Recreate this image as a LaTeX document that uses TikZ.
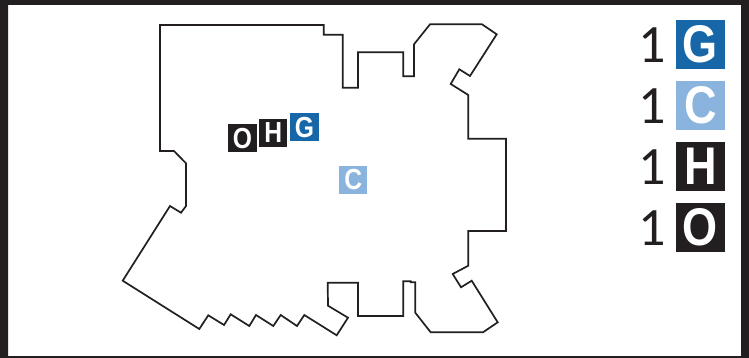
\documentclass[tikz,border=0pt]{standalone}
\usepackage{fontspec}
\setmainfont{Liberation Sans}
\newfontfamily\numfont{Carlito}
\newfontfamily\labfont[FakeStretch=0.85,BoldFont={Liberation Sans Bold}]{Liberation Sans}
\definecolor{ink}{HTML}{231F20}
\definecolor{gblue}{HTML}{1766A8}
\definecolor{cblue}{HTML}{8AB4DE}
\tikzset{
  outline/.style={draw=ink,line width=1.7pt,line join=miter},
  small/.style={minimum size=28.2pt,inner sep=0pt,outer sep=0pt,text=white,font=\labfont\fontsize{29}{29}\selectfont\bfseries},
  big/.style={minimum width=49pt,minimum height=48.8pt,inner sep=0pt,outer sep=0pt,text=white,font=\labfont\fontsize{53}{53}\selectfont\bfseries},
  num/.style={text=ink,inner sep=0pt,font=\numfont\fontsize{54}{54}\selectfont},
}
\begin{document}
\begin{tikzpicture}[x=1pt,y=-1pt]
\useasboundingbox (0,0) rectangle (749,358);
\fill[white] (0,0) rectangle (749,358);
\fill[ink,even odd rule] (0,0) rectangle (749,358) (8,5) rectangle (741,356);
\draw[outline] (160,25) -- (323.7,25) -- (323.7,34.7) -- (342.7,34.7) -- (342.7,87.7) -- (358,87.7) -- (358,52.3) -- (403.3,52.3) -- (403.3,76.3) -- (414,76.3) -- (414,44.3) -- (430,24.3) -- (482,24.3) -- (496.7,34.3) -- (470,76) -- (459.3,69.3) -- (450.7,84) -- (468.3,95) -- (468.3,138.7) -- (506,138.7) -- (506,231) -- (468.3,231) -- (468.3,265.7) -- (452.7,274) -- (461,287.3) -- (471.7,280.7) -- (497.7,322.3) -- (483,332.3) -- (430.7,332.3) -- (415.3,312.7) -- (415.3,282.3) -- (410.7,282.3) -- (410.7,281.3) -- (403.3,281.3) -- (403.3,316) -- (358,316) -- (358,282.7) -- (327.7,282.7) -- (328,305.7) -- (348,317.7) -- (336.7,335.3) -- (304.3,315) -- (297,326) -- (280.7,315) -- (273.3,326) -- (256,315) -- (249.3,326) -- (230.7,314.3) -- (224,325) -- (208.3,315.3) -- (199.3,329) -- (122.7,280.7) -- (170,206) -- (181,212.7) -- (186,206) -- (186,163.3) -- (174,151) -- (160,151) -- cycle;
\node[small,fill=ink] (o1) at (242.5,138.3) {O};
\node[small,fill=ink] (h1) at (273.3,132.7) {H};
\node[small,fill=gblue] (g1) at (304.5,127.3) {G};
\node[small,fill=cblue] (c1) at (353.3,180) {C};
\node[big,fill=gblue] (g2) at (700.5,44.7) {G};
\node[big,fill=cblue] (c2) at (700.5,105.5) {C};
\node[big,fill=ink] (h2) at (700.5,166.7) {H};
\node[big,fill=ink] (o2) at (700.5,227.7) {O};
\node[num] (n1) at (651.7,45) {1};
\node[num] (n2) at (651.7,106) {1};
\node[num] (n3) at (651.7,167) {1};
\node[num] (n4) at (651.7,228) {1};
\end{tikzpicture}
\end{document}
